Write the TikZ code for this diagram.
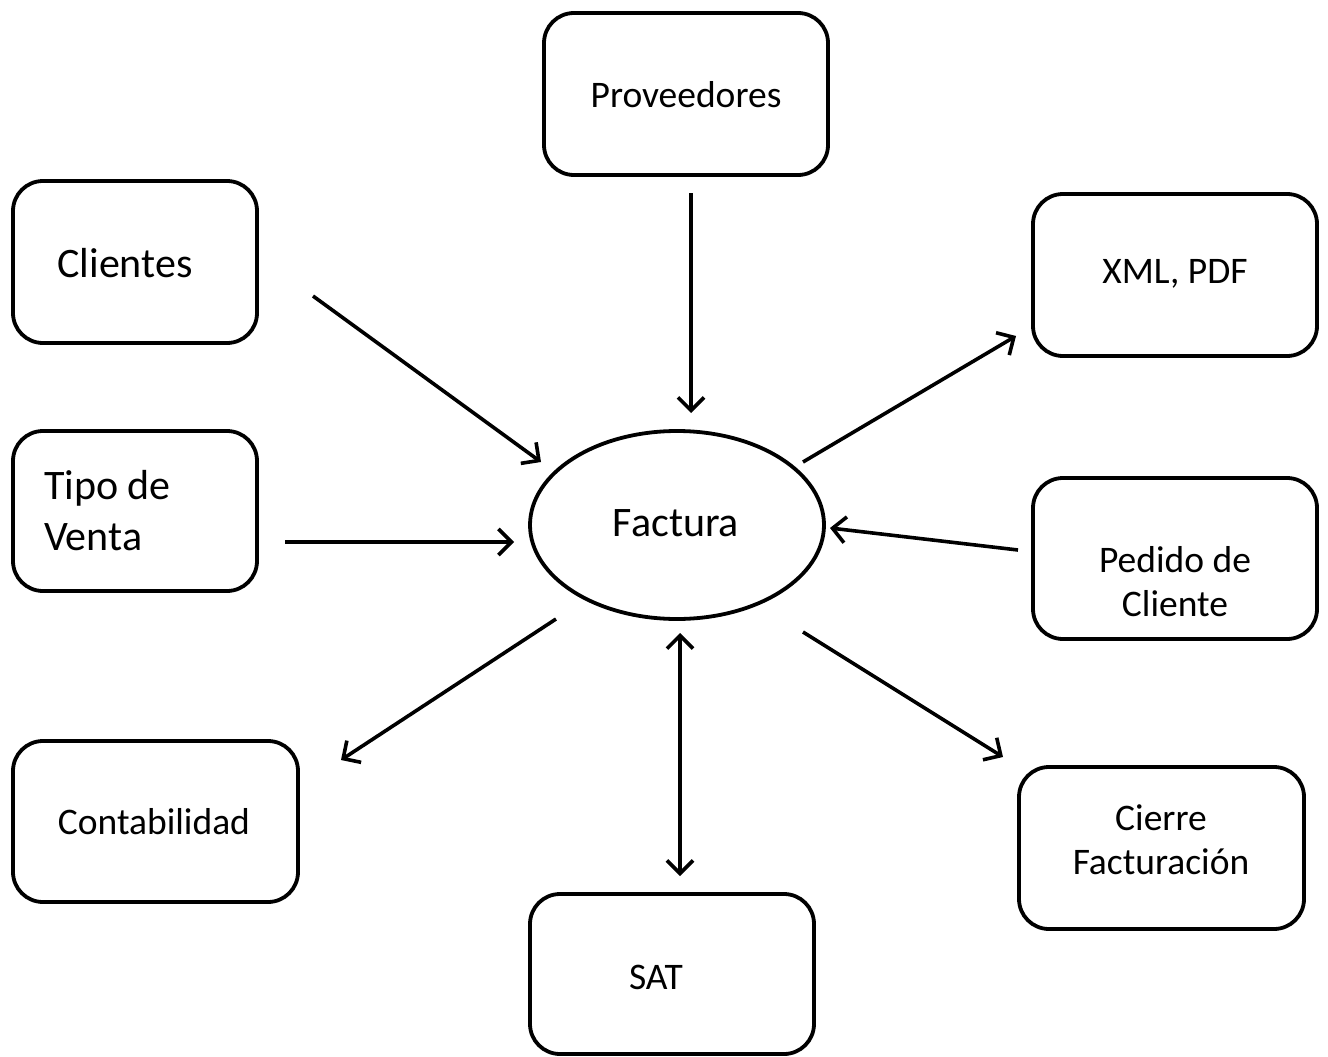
\documentclass[tikz,border=0pt]{standalone}
\usepackage{fontspec}
\setmainfont{Carlito}
\usetikzlibrary{shapes.geometric,arrows.meta}
\begin{document}
\begin{tikzpicture}[x=1pt,y=-1pt,
  box/.style={draw, line width=3.8pt, rounded corners=30pt, inner sep=0pt},
  lbl/.style={inner sep=0pt, align=center, font=\fontsize{37.5}{44}\selectfont},
  biglbl/.style={inner sep=0pt, align=left, font=\fontsize{42}{51}\selectfont},
  barb/.style={Straight Barb[length=13pt,width=26pt,line width=3.6pt]},
  flow/.style={line width=3.6pt, -{Straight Barb[length=13pt,width=26pt,line width=3.6pt]}},
  both/.style={line width=3.6pt, {Straight Barb[length=13pt,width=26pt,line width=3.6pt]}-{Straight Barb[length=13pt,width=26pt,line width=3.6pt]}}]
\useasboundingbox (0,0) rectangle (1328,1057);
\fill[white] (0,0) rectangle (1328,1057);

% boxes
\node[box, minimum width=284pt, minimum height=162pt] (prov) at (686,94) {};
\node[box, minimum width=244pt, minimum height=162pt] (cli) at (135,262) {};
\node[box, minimum width=284pt, minimum height=162pt] (xml) at (1175,275) {};
\node[box, minimum width=244pt, minimum height=160pt] (tipo) at (135,511) {};
\node[box, minimum width=284pt, minimum height=161pt] (ped) at (1175,558.5) {};
\node[box, minimum width=285pt, minimum height=161pt] (cont) at (155.5,821.5) {};
\node[box, minimum width=285pt, minimum height=162pt] (cie) at (1161.5,848) {};
\node[box, minimum width=284pt, minimum height=160pt] (sat) at (672,974) {};
\node[draw, ellipse, line width=3.8pt, inner sep=0pt, minimum width=294pt, minimum height=188pt] (fac) at (677,525) {};

% labels
\node[lbl] (tprov) at (686,95) {Proveedores};
\node[biglbl] (tcli) at (125,263) {Clientes};
\node[lbl] (txml) at (1175,274) {XML, PDF};
\node[biglbl, anchor=west] (ttipo) at (44,511) {Tipo de\\Venta};
\node[biglbl] (tfac) at (676,523) {Factura};
\node[lbl] (tped) at (1175,582) {Pedido de\\Cliente};
\node[lbl] (tcont) at (154,822) {Contabilidad};
\node[lbl] (tcie) at (1161,840) {Cierre\\Facturación};
\node[lbl] (tsat) at (656,977) {SAT};

% connector ends
\coordinate (p1) at (691,193);  \coordinate (p2) at (691,413);
\coordinate (c1) at (313,296);  \coordinate (c2) at (541,462);
\coordinate (v1) at (285,542);  \coordinate (v2) at (514,542);
\coordinate (x1) at (803,462);  \coordinate (x2) at (1016,336);
\coordinate (d1) at (1018,550); \coordinate (d2) at (830,528);
\coordinate (o1) at (556,619);  \coordinate (o2) at (341,760);
\coordinate (r1) at (803,632);  \coordinate (r2) at (1003,757);
\coordinate (s1) at (680,633);  \coordinate (s2) at (680,876);

% connectors
\draw[flow] (p1) -- (p2);
\draw[flow] (c1) -- (c2);
\draw[flow] (v1) -- (v2);
\draw[flow] (x1) -- (x2);
\draw[flow] (d1) -- (d2);
\draw[flow] (o1) -- (o2);
\draw[flow] (r1) -- (r2);
\draw[both] (s1) -- (s2);
\end{tikzpicture}
\end{document}
